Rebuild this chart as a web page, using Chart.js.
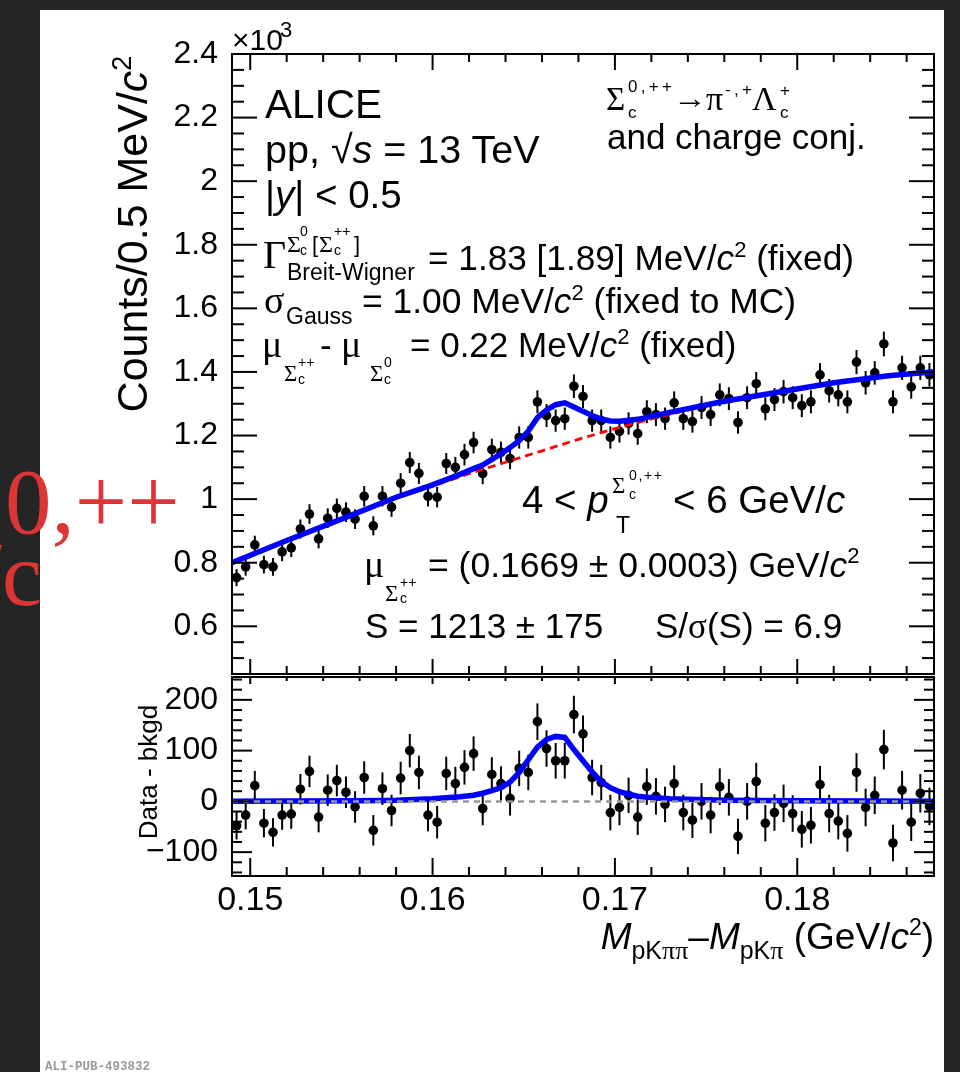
<!DOCTYPE html>
<html>
<head>
<meta charset="utf-8">
<script src="https://cdn.jsdelivr.net/npm/chart.js@4.4.1/dist/chart.umd.min.js"></script>
<style>
  body { margin: 0; width: 960px; height: 1072px; overflow: hidden; position: relative; background: #252525; }
  #paper { position: absolute; left: 40px; top: 10px; width: 904px; height: 1062px; background: #fff; }
  canvas { position: absolute; left: 0; }
  #topPad { top: 0; }
  #botPad { top: 660px; }
  #labels { position: absolute; left: 0; top: 0; white-space: pre; pointer-events: none; }
  #labels text { font-family: "Liberation Sans", Arial, sans-serif; fill: #000; }
  #labels .g { font-family: "Liberation Serif", "DejaVu Serif", serif; }
  #labels .i { font-style: italic; }
</style>
</head>
<body>
<div id="paper"></div>
<canvas id="topPad" width="960" height="690"></canvas>
<canvas id="botPad" width="960" height="300"></canvas>

<svg id="labels" width="960" height="1072">
  <!-- axis titles -->
  <text x="232" y="50" font-size="30">×10</text>
  <text x="280" y="37" font-size="22">3</text>
  <text transform="translate(147,234) rotate(-90)" text-anchor="middle" font-size="43">Counts/0.5 MeV/<tspan class="i">c</tspan><tspan dy="-16" font-size="27">2</tspan></text>
  <text transform="translate(157,772) rotate(-90)" text-anchor="middle" font-size="26">Data - bkgd</text>
  <text x="934" y="949" text-anchor="end" font-size="37"><tspan class="i">M</tspan><tspan dy="10" font-size="25">pK</tspan><tspan class="g" font-size="26">ππ</tspan><tspan dy="-10">–</tspan><tspan class="i">M</tspan><tspan dy="10" font-size="25">pK</tspan><tspan class="g" font-size="26">π</tspan><tspan dy="-10"> (GeV/</tspan><tspan class="i">c</tspan><tspan dy="-14" font-size="23">2</tspan><tspan dy="14">)</tspan></text>

  <!-- top left block -->
  <text x="265" y="118" font-size="40.5">ALICE</text>
  <text x="265" y="163" font-size="39.5">pp, √<tspan class="i">s</tspan> = 13 TeV</text>
  <text x="265" y="208" font-size="38.5">|<tspan class="i">y</tspan>| &lt; 0.5</text>

  <text x="263" y="268" font-size="40" class="g">Γ</text>
  <text x="287" y="252" font-size="24" class="g">Σ</text>
  <text x="300" y="236" font-size="14">0</text>
  <text x="300" y="255" font-size="14">c</text>
  <text x="312" y="252" font-size="22">[</text>
  <text x="319" y="252" font-size="24" class="g">Σ</text>
  <text x="334" y="236" font-size="14">++</text>
  <text x="334" y="255" font-size="14">c</text>
  <text x="354" y="252" font-size="22">]</text>
  <text x="287" y="280" font-size="23">Breit-Wigner</text>
  <text x="428" y="270" font-size="35.2">= 1.83 [1.89] MeV/<tspan class="i">c</tspan><tspan dy="-13" font-size="22">2</tspan><tspan dy="13"> (fixed)</tspan></text>

  <text x="264" y="313" font-size="38" class="g">σ</text>
  <text x="286" y="324" font-size="23">Gauss</text>
  <text x="362" y="313" font-size="35.4">= 1.00 MeV/<tspan class="i">c</tspan><tspan dy="-13" font-size="22">2</tspan><tspan dy="13"> (fixed to MC)</tspan></text>

  <text x="262" y="357" font-size="38" class="g">μ</text>
  <text x="284" y="381" font-size="23" class="g">Σ</text>
  <text x="298" y="367" font-size="14">++</text>
  <text x="298" y="384" font-size="14">c</text>
  <text x="320" y="357" font-size="35">-</text>
  <text x="341" y="357" font-size="38" class="g">μ</text>
  <text x="370" y="381" font-size="23" class="g">Σ</text>
  <text x="384" y="367" font-size="14">0</text>
  <text x="384" y="384" font-size="14">c</text>
  <text x="410" y="357" font-size="35">= 0.22 MeV/<tspan class="i">c</tspan><tspan dy="-13" font-size="22">2</tspan><tspan dy="13"> (fixed)</tspan></text>

  <!-- decay channel -->
  <text x="606" y="110" font-size="33" class="g">Σ</text>
  <text x="628" y="92" font-size="17" textLength="44" lengthAdjust="spacing">0,++</text>
  <text x="628" y="118" font-size="17">c</text>
  <text x="673" y="108" font-size="30" textLength="34" lengthAdjust="spacingAndGlyphs">→</text>
  <text x="706" y="110" font-size="34" class="g">π</text>
  <text x="725" y="95" font-size="17" textLength="27" lengthAdjust="spacing">-,+</text>
  <text x="752" y="110" font-size="34" class="g">Λ</text>
  <text x="780" y="96" font-size="17">+</text>
  <text x="780" y="118" font-size="17">c</text>
  <text x="607" y="149" font-size="35">and charge conj.</text>

  <!-- pT bin and fit results -->
  <text x="522" y="513" font-size="38.5">4 &lt; <tspan class="i">p</tspan></text>
  <text x="612" y="493" font-size="23" class="g">Σ</text>
  <text x="629" y="480" font-size="14" textLength="33" lengthAdjust="spacing">0,++</text>
  <text x="629" y="499" font-size="14">c</text>
  <text x="616" y="533" font-size="23">T</text>
  <text x="673" y="513" font-size="38.5">&lt; 6 GeV/<tspan class="i">c</tspan></text>

  <text x="364" y="577" font-size="38" class="g">μ</text>
  <text x="385" y="601" font-size="23" class="g">Σ</text>
  <text x="400" y="587" font-size="14">++</text>
  <text x="400" y="603" font-size="14">c</text>
  <text x="428" y="577" font-size="35.5">= (0.1669 ± 0.0003) GeV/<tspan class="i">c</tspan><tspan dy="-14" font-size="22">2</tspan></text>

  <text x="365" y="638" font-size="35">S = 1213 ± 175</text>
  <text x="655" y="638" font-size="35">S/<tspan class="g">σ</tspan>(S) = 6.9</text>

  <!-- stray red label at the left edge -->
  <text x="5" y="533" font-size="93" class="g" style="fill:#dc3535">0,++</text>
  <text x="42" y="605" font-size="90" class="g" text-anchor="end" style="fill:#dc3535">/c</text>

  <text x="45" y="1070" font-size="12.5" font-weight="bold" style="font-family:'Liberation Mono',monospace;fill:#9a9a9a">ALI-PUB-493832</text>
</svg>

<script>
// bin centres, M(pKpipi) - M(pKpi) in GeV/c^2 (0.5 MeV/c^2 bins)
const massBins = [
  0.14925, 0.14975, 0.15025, 0.15075, 0.15125, 0.15175, 0.15225, 0.15275, 0.15325, 0.15375,
  0.15425, 0.15475, 0.15525, 0.15575, 0.15625, 0.15675, 0.15725, 0.15775, 0.15825, 0.15875,
  0.15925, 0.15975, 0.16025, 0.16075, 0.16125, 0.16175, 0.16225, 0.16275, 0.16325, 0.16375,
  0.16425, 0.16475, 0.16525, 0.16575, 0.16625, 0.16675, 0.16725, 0.16775, 0.16825, 0.16875,
  0.16925, 0.16975, 0.17025, 0.17075, 0.17125, 0.17175, 0.17225, 0.17275, 0.17325, 0.17375,
  0.17425, 0.17475, 0.17525, 0.17575, 0.17625, 0.17675, 0.17725, 0.17775, 0.17825, 0.17875,
  0.17925, 0.17975, 0.18025, 0.18075, 0.18125, 0.18175, 0.18225, 0.18275, 0.18325, 0.18375,
  0.18425, 0.18475, 0.18525, 0.18575, 0.18625, 0.18675, 0.18725
];

// top pad: counts per 0.5 MeV/c^2, in units of 10^3
const countsK = [
  0.753, 0.787, 0.856, 0.794, 0.787, 0.834, 0.847, 0.906, 0.953, 0.875,
  0.940, 0.971, 0.959, 0.937, 1.009, 0.916, 1.009, 0.975, 1.050, 1.115,
  1.081, 1.009, 1.006, 1.112, 1.100, 1.140, 1.178, 1.080, 1.156, 1.147,
  1.128, 1.194, 1.194, 1.306, 1.263, 1.247, 1.253, 1.355, 1.323, 1.247,
  1.247, 1.194, 1.213, 1.238, 1.206, 1.275, 1.266, 1.253, 1.303, 1.253,
  1.244, 1.288, 1.266, 1.328, 1.316, 1.241, 1.319, 1.363, 1.284, 1.313,
  1.338, 1.319, 1.294, 1.306, 1.391, 1.341, 1.328, 1.306, 1.431, 1.366,
  1.397, 1.488, 1.306, 1.413, 1.353, 1.413, 1.391
];

// bottom pad: data - background (counts)
const residuals = [
  -48, -27, 31, -43, -61, -27, -25, 24, 59, -31,
  22, 41, 18, -11, 47, -57, 25, -18, 46, 100,
  57, -27, -41, 55, 35, 67, 94, -14, 53, 35,
  6, 65, 57, 157, 104, 80, 80, 171, 133, 47,
  37, -22, -12, 12, -31, 29, 10, -6, 35, -22,
  -37, 0, -27, 29, 8, -69, 0, 39, -43, -22,
  -4, -24, -55, -47, 33, -24, -39, -63, 57, -12,
  12, 102, -82, 22, -41, 16, -10
];

// statistical errors (counts), same for both pads
const statErr = [
  27, 28, 29, 28, 28, 29, 29, 30, 31, 30,
  31, 31, 31, 31, 32, 30, 32, 31, 32, 33,
  33, 32, 32, 33, 33, 34, 34, 33, 34, 34,
  34, 35, 35, 36, 36, 35, 35, 37, 36, 35,
  35, 35, 35, 35, 35, 36, 36, 35, 36, 35,
  35, 36, 36, 36, 36, 35, 36, 37, 36, 36,
  37, 36, 36, 36, 37, 37, 36, 36, 38, 37,
  37, 39, 36, 38, 37, 38, 37
];

// total fit (blue, top pad)
const totalFitX = [0.1490, 0.1520, 0.1550, 0.1580, 0.1600, 0.1615, 0.16225, 0.16275, 0.16325, 0.16375,
  0.16425, 0.16475, 0.16525, 0.16575, 0.16625, 0.16675, 0.16725, 0.16775, 0.16825, 0.16875,
  0.16925, 0.16975, 0.17025, 0.17125, 0.1730, 0.1760, 0.1790, 0.1820, 0.1850, 0.1875];
const totalFitY = [0.800, 0.870, 0.937, 1.006, 1.045, 1.078, 1.096, 1.107, 1.125, 1.142,
  1.162, 1.184, 1.214, 1.256, 1.280, 1.297, 1.303, 1.290, 1.276, 1.263,
  1.252, 1.246, 1.245, 1.251, 1.273, 1.308, 1.337, 1.366, 1.388, 1.401];

// background fit (red dashed, top pad)
const bkgFitX = [0.1490, 0.1520, 0.1550, 0.1580, 0.1600, 0.1620, 0.1640, 0.1660, 0.1680,
  0.1700, 0.1720, 0.1740, 0.1760, 0.1790, 0.1820, 0.1850, 0.1875];
const bkgFitY = [0.800, 0.869, 0.935, 1.003, 1.041, 1.080, 1.116, 1.152, 1.188,
  1.222, 1.252, 1.280, 1.305, 1.336, 1.364, 1.387, 1.400];

// signal fit (blue, bottom pad)
const sigFitX = [0.1490, 0.1560, 0.1580, 0.1600, 0.1615, 0.16225, 0.16275, 0.16325, 0.16375, 0.16425,
  0.16475, 0.16525, 0.16575, 0.16625, 0.16675, 0.16725, 0.16775, 0.16825, 0.16875, 0.16925,
  0.16975, 0.17025, 0.17075, 0.17125, 0.17175, 0.1730, 0.1760, 0.1800, 0.1875];
const sigFitY = [0, 1, 2, 5, 9, 12, 16, 21, 27, 38,
  57, 82, 107, 122, 128, 126, 102, 80, 58, 39,
  27, 19, 14, 10, 8, 5, 2, 1, 0];

const zeroLineX = [0.149, 0.1875];
const zeroLineY = [0, 0];

const xTicks = [0.15, 0.16, 0.17, 0.18];
const xTickLabels = ["0.15", "0.16", "0.17", "0.18"];
const yTopTicks = [0.6, 0.8, 1.0, 1.2, 1.4, 1.6, 1.8, 2.0, 2.2, 2.4];
const yTopLabels = ["0.6", "0.8", "1", "1.2", "1.4", "1.6", "1.8", "2", "2.2", "2.4"];
const yBotTicks = [-100, 0, 100, 200];
const yBotLabels = ["\u2212100", "0", "100", "200"];

const FONT = "'Liberation Sans', Arial, sans-serif";

function pairs(xs, ys) {
    return xs.map((x, i) => ({ x: x, y: ys[i] }));
}

function stepsFrom(start, step, max) {
    const out = [];
    for (let k = 0; start + k * step <= max + 1e-9; k++) out.push(start + k * step);
    return out;
}

/* =========================
   ROOT STYLE FRAME, TICKS AND ERROR BARS
========================= */
const rootFrame = {
    id: "rootFrame",
    beforeDatasetsDraw(chart) {
        const ctx = chart.ctx;
        const a = chart.chartArea;
        const xs = chart.scales.x, ys = chart.scales.y;
        ctx.save();
        ctx.beginPath();
        ctx.rect(a.left, a.top, a.right - a.left, a.bottom - a.top);
        ctx.clip();
        ctx.strokeStyle = "#000";
        ctx.lineWidth = 2;
        chart.data.datasets.forEach(ds => {
            if (!ds.errorBars) return;
            ds.data.forEach((p, i) => {
                const px = xs.getPixelForValue(p.x);
                ctx.beginPath();
                ctx.moveTo(px, ys.getPixelForValue(p.y - ds.errorBars[i]));
                ctx.lineTo(px, ys.getPixelForValue(p.y + ds.errorBars[i]));
                ctx.stroke();
            });
        });
        ctx.restore();
    },
    afterDraw(chart, args, opts) {
        const ctx = chart.ctx;
        const a = chart.chartArea;
        const xs = chart.scales.x, ys = chart.scales.y;
        const line = (x1, y1, x2, y2) => {
            ctx.beginPath();
            ctx.moveTo(x1, y1);
            ctx.lineTo(x2, y2);
            ctx.stroke();
        };
        ctx.save();
        ctx.strokeStyle = "#000";
        ctx.lineWidth = 2;
        ctx.strokeRect(a.left, a.top, a.right - a.left, a.bottom - a.top);

        // x ticks (bottom and top edges)
        stepsFrom(opts.xMinor[0], opts.xMinor[1], xs.max).forEach(v => {
            const major = opts.xMajor.some(m => Math.abs(m - v) < 1e-7);
            const px = xs.getPixelForValue(v);
            const lb = major ? opts.xLenBottom[0] : opts.xLenBottom[1];
            const lt = major ? opts.xLenTop[0] : opts.xLenTop[1];
            line(px, a.bottom, px, a.bottom - lb);
            line(px, a.top, px, a.top + lt);
        });

        // y ticks (left and right edges)
        stepsFrom(opts.yMinor[0], opts.yMinor[1], ys.max).forEach(v => {
            const major = opts.yMajor.some(m => Math.abs(m - v) < 1e-7);
            const py = ys.getPixelForValue(v);
            const l = major ? opts.yLen[0] : opts.yLen[1];
            line(a.left, py, a.left + l, py);
            line(a.right, py, a.right - l, py);
        });
        ctx.restore();
    }
};

function tickAxis(ticks, labels, size, isX, padding, fontSize) {
    return {
        grid: { display: false, drawTicks: false },
        border: { display: false },
        afterBuildTicks: s => { s.ticks = ticks.map(v => ({ value: v })); },
        afterFit: s => {
            if (isX) s.height = size;
            else s.width = size;
            // no extra room for overhanging labels, the layout padding sets the frame
            s.paddingTop = 0;
            s.paddingBottom = 0;
            s.paddingLeft = 0;
            s.paddingRight = 0;
        },
        ticks: {
            autoSkip: false,
            maxRotation: 0,
            padding: padding,
            color: "#000",
            font: { family: FONT, size: fontSize },
            callback: (value, index) => labels[index]
        }
    };
}

const markerStyle = {
    showLine: false,
    pointRadius: 4.8,
    pointHoverRadius: 4.8,
    pointBackgroundColor: "#000",
    pointBorderWidth: 0,
    order: 3
};

/* =========================
   TOP PAD: INVARIANT MASS DIFFERENCE
========================= */
const topX = { type: "linear", min: 0.149, max: 0.1875, display: false };
const topY = Object.assign({ type: "linear", min: 0.45, max: 2.4 },
    tickAxis(yTopTicks, yTopLabels, 232, false, 14, 32));

new Chart(document.getElementById("topPad"), {
    type: "scatter",
    data: {
        datasets: [
            Object.assign({
                label: "Data",
                data: pairs(massBins, countsK),
                errorBars: statErr.map(e => e / 1000)
            }, markerStyle),
            {
                label: "Background",
                data: pairs(bkgFitX, bkgFitY),
                showLine: true,
                borderColor: "#ff0000",
                borderWidth: 2.8,
                borderDash: [8, 5],
                pointRadius: 0,
                clip: 0,
                order: 2
            },
            {
                label: "Total fit",
                data: pairs(totalFitX, totalFitY),
                showLine: true,
                borderColor: "#0000ff",
                borderWidth: 5.5,
                pointRadius: 0,
                clip: 0,
                order: 1
            }
        ]
    },
    options: {
        responsive: false,
        devicePixelRatio: 1,
        animation: false,
        events: [],
        layout: { padding: { left: 0, top: 54, right: 26, bottom: 16 } },
        scales: { x: topX, y: topY },
        plugins: {
            legend: { display: false },
            tooltip: { enabled: false },
            rootFrame: {
                xMajor: xTicks, xMinor: [0.15, 0.002],
                yMajor: yTopTicks, yMinor: [0.45, 0.05],
                xLenBottom: [15, 8], xLenTop: [16, 8], yLen: [25, 12]
            }
        }
    },
    plugins: [rootFrame]
});

/* =========================
   BOTTOM PAD: DATA - BACKGROUND
========================= */
const botX = Object.assign({ type: "linear", min: 0.149, max: 0.1875 },
    tickAxis(xTicks, xTickLabels, 84, true, 4, 34));
const botY = Object.assign({ type: "linear", min: -147, max: 245 },
    tickAxis(yBotTicks, yBotLabels, 232, false, 14, 32));

new Chart(document.getElementById("botPad"), {
    type: "scatter",
    data: {
        datasets: [
            Object.assign({
                label: "Data - bkgd",
                data: pairs(massBins, residuals),
                errorBars: statErr
            }, markerStyle),
            {
                label: "Signal fit",
                data: pairs(sigFitX, sigFitY),
                showLine: true,
                borderColor: "#0000ff",
                borderWidth: 5.5,
                pointRadius: 0,
                clip: 0,
                order: 2
            },
            {
                label: "Zero",
                data: pairs(zeroLineX, zeroLineY),
                showLine: true,
                borderColor: "#999999",
                borderWidth: 2.5,
                borderDash: [6, 5],
                pointRadius: 0,
                clip: 0,
                order: 1
            }
        ]
    },
    options: {
        responsive: false,
        devicePixelRatio: 1,
        animation: false,
        events: [],
        layout: { padding: { left: 0, top: 17, right: 26, bottom: 0 } },
        scales: { x: botX, y: botY },
        plugins: {
            legend: { display: false },
            tooltip: { enabled: false },
            rootFrame: {
                xMajor: xTicks, xMinor: [0.15, 0.002],
                yMajor: yBotTicks, yMinor: [-140, 20],
                xLenBottom: [18, 9], xLenTop: [7, 4], yLen: [20, 10]
            }
        }
    },
    plugins: [rootFrame]
});
</script>
</body>
</html>
